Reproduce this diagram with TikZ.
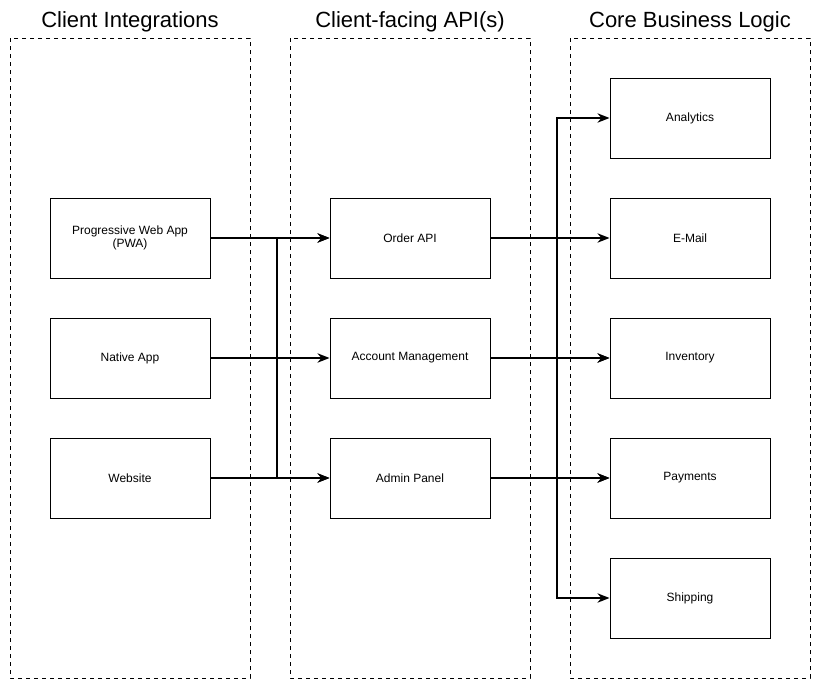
\documentclass[tikz,border=0pt]{standalone}
\usepackage{fontspec}
\setmainfont{Liberation Sans}
\usetikzlibrary{arrows.meta}
\tikzset{
  lane/.style = {draw, dashed, line width = 0.5pt},
  box/.style = {draw, line width = 0.75pt, minimum width = 120pt,
    minimum height = 60pt, align = center, font = \fontsize{9}{10}\selectfont},
  title/.style = {font = \fontsize{16.5}{19}\selectfont},
  link/.style = {line width = 1.5pt, -{Stealth[length = 9pt, width = 7pt]}}
}

\begin{document}
\begin{tikzpicture}[x = 0.75pt, y = -0.75pt]
  \useasboundingbox (0, 0) rectangle (821, 689);

  % lanes and their titles
  \draw[lane] (10, 38) rectangle (250, 678);
  \draw[lane] (290, 38) rectangle (530, 678);
  \draw[lane] (570, 38) rectangle (810, 678);
  \node[title] (tclient) at (130, 22) {Client Integrations};
  \node[title] (tapi) at (410, 22) {Client-facing API(s)};
  \node[title] (tcore) at (690, 22) {Core Business Logic};

  % client integrations
  \node[box] (pwa) at (130, 238) {Progressive Web App\\(PWA)};
  \node[box] (native) at (130, 358) {Native App};
  \node[box] (web) at (130, 478) {Website};

  % client-facing apis
  \node[box] (order) at (410, 238) {Order API};
  \node[box] (account) at (410, 358) {Account Management};
  \node[box] (admin) at (410, 478) {Admin Panel};

  % core business logic
  \foreach \name/\txt [count = \i] in {analytics/Analytics, email/E-Mail,
    inventory/Inventory, payments/Payments, shipping/Shipping}
    \node[box] (\name) at (690, 120 * \i - 2) {\txt};

  \coordinate (jl) at (277, 0);
  \coordinate (jr) at (557, 0);

  \draw[link] (pwa) -- (order);
  \draw[link] (native) -- (account);
  \draw[link] (web) -- (admin);
  \draw[link] (pwa.east) -- (jl |- pwa.east) |- (admin.west);
  \draw[link] (web.east) -- (jl |- web.east) |- (order.west);

  \foreach \name in {analytics, email, inventory, payments, shipping}
    \draw[link] (order.east) -- (jr |- order.east) |- (\name.west);
  \draw[link] (account) -- (inventory);
  \draw[link] (admin) -- (payments);
\end{tikzpicture}
\end{document}
